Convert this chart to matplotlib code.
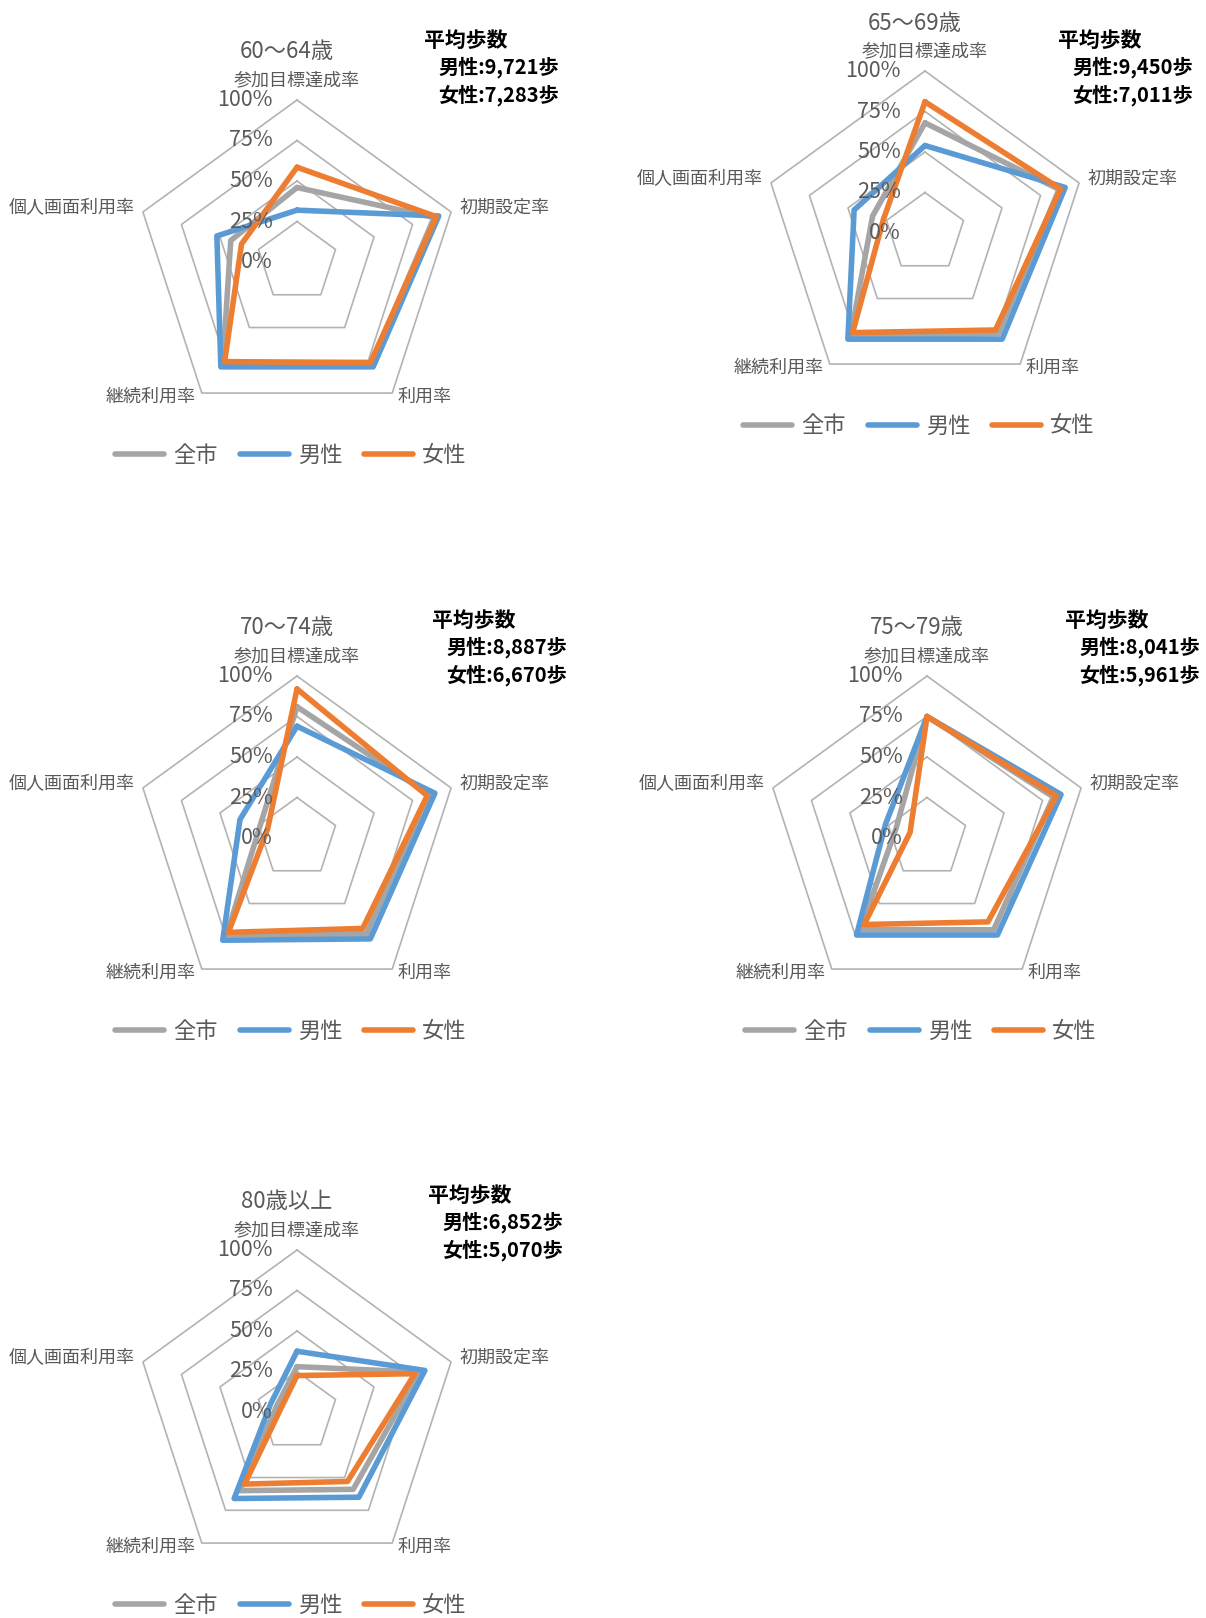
import numpy as np
import matplotlib
matplotlib.use('Agg')
import matplotlib.pyplot as plt

plt.rcParams['font.family'] = ['Noto Sans CJK JP', 'DejaVu Sans']

# data
categories = ['参加目標達成率', '初期設定率', '利用率', '継続利用率', '個人画面利用率']
series_names = ['全市', '男性', '女性']
age_groups = ['60～64歳', '65～69歳', '70～74歳', '75～79歳', '80歳以上']
steps_male = ['9,721', '9,450', '8,887', '8,041', '6,852']
steps_female = ['7,283', '7,011', '6,670', '5,961', '5,070']
tick_values = [0, 0.25, 0.5, 0.75, 1.0]
tick_labels = ['0%', '25%', '50%', '75%', '100%']

city_vals = [
    [0.46, 0.89, 0.78, 0.78, 0.43],
    [0.68, 0.87, 0.77, 0.78, 0.34],
    [0.81, 0.86, 0.73, 0.74, 0.24],
    [0.75, 0.82, 0.70, 0.70, 0.20],
    [0.28, 0.795, 0.59, 0.60, 0.13],
]
male_vals = [
    [0.32, 0.92, 0.80, 0.80, 0.52],
    [0.54, 0.91, 0.81, 0.81, 0.46],
    [0.69, 0.895, 0.77, 0.78, 0.37],
    [0.75, 0.87, 0.74, 0.74, 0.27],
    [0.375, 0.83, 0.65, 0.66, 0.17],
]
female_vals = [
    [0.585, 0.905, 0.77, 0.76, 0.36],
    [0.81, 0.88, 0.74, 0.76, 0.27],
    [0.92, 0.845, 0.69, 0.72, 0.19],
    [0.75, 0.84, 0.64, 0.66, 0.11],
    [0.225, 0.765, 0.53, 0.55, 0.10],
]

colors = ['#a5a5a5', '#5b9bd5', '#ed7d31']
W, H = 1206, 1618
R = 162  # pixel radius of 100% ring

# panel layout in pixels: pentagon center, steps box pos
centers = [(297, 262), (925, 233), (297, 838), (927, 838), (297, 1412)]
steps_pos = [(424, 40), (1058, 40), (432, 620), (1065, 620), (428, 1195)]

fig = plt.figure(figsize=(W / 100, H / 100), dpi=100)

ang = np.deg2rad(90 - 72 * np.arange(5))
cosA, sinA = np.cos(ang), np.sin(ang)

for p in range(5):
    cx, cy = centers[p]
    m = 1.5
    ax = fig.add_axes([(cx - R * m) / W, 1 - (cy + R * m) / H, 2 * R * m / W, 2 * R * m / H])
    ax.set_xlim(-m, m)
    ax.set_ylim(-m, m)
    ax.axis('off')

    for t in tick_values[1:]:
        ax.plot(np.append(t * cosA, t * cosA[0]), np.append(t * sinA, t * sinA[0]),
                color='#b3b3b3', lw=1.2, zorder=1)

    lines = []
    for k, vals in enumerate([city_vals[p], male_vals[p], female_vals[p]]):
        v = np.array(vals)
        ln, = ax.plot(np.append(v * cosA, v[0] * cosA[0]), np.append(v * sinA, v[0] * sinA[0]),
                      color=colors[k], lw=4.0, solid_joinstyle='round', zorder=2 + k,
                      label=series_names[k], solid_capstyle='round')
        lines.append(ln)

    for t, lab in zip(tick_values, tick_labels):
        ax.text(-24 / R, t, lab, ha='right', va='center', fontsize=15.5, color='#595959', zorder=6)

    txt = dict(fontsize=13, color='#595959', va='center')
    ax.text(0, 182 / R, categories[0], ha='center', **txt)
    ax.text(162.6 / R, 54 / R, categories[1], ha='left', **txt)
    ax.text(101 / R, -135 / R, categories[2], ha='left', **txt)
    ax.text(-101 / R, -135 / R, categories[3], ha='right', **txt)
    ax.text(-162.4 / R, 54 / R, categories[4], ha='right', **txt)

    ax.text(-10.5 / R, 210 / R, age_groups[p], ha='center', va='center', fontsize=16, color='#595959')

    leg = ax.legend(handles=lines, loc='center', bbox_to_anchor=((cx - 6) / W, 1 - (cy + 193) / H),
                    bbox_transform=fig.transFigure, ncol=3, frameon=False, fontsize=16,
                    handlelength=2.2, handletextpad=0.4, columnspacing=1.0)
    for t in leg.get_texts():
        t.set_color('#595959')
    for h in leg.get_lines():
        h.set_linewidth(4.0)

    sx, sy = steps_pos[p]
    fig.text(sx / W, 1 - sy / H, '平均歩数', ha='left', va='center', fontsize=15,
             fontweight='bold', color='black')
    fig.text((sx + 14) / W, 1 - (sy + 27.5) / H, '男性:' + steps_male[p] + '歩', ha='left',
             va='center', fontsize=14.5, fontweight='bold', color='black')
    fig.text((sx + 14) / W, 1 - (sy + 55) / H, '女性:' + steps_female[p] + '歩', ha='left',
             va='center', fontsize=14.5, fontweight='bold', color='black')

fig.savefig('out.png', dpi=100, facecolor='white')
